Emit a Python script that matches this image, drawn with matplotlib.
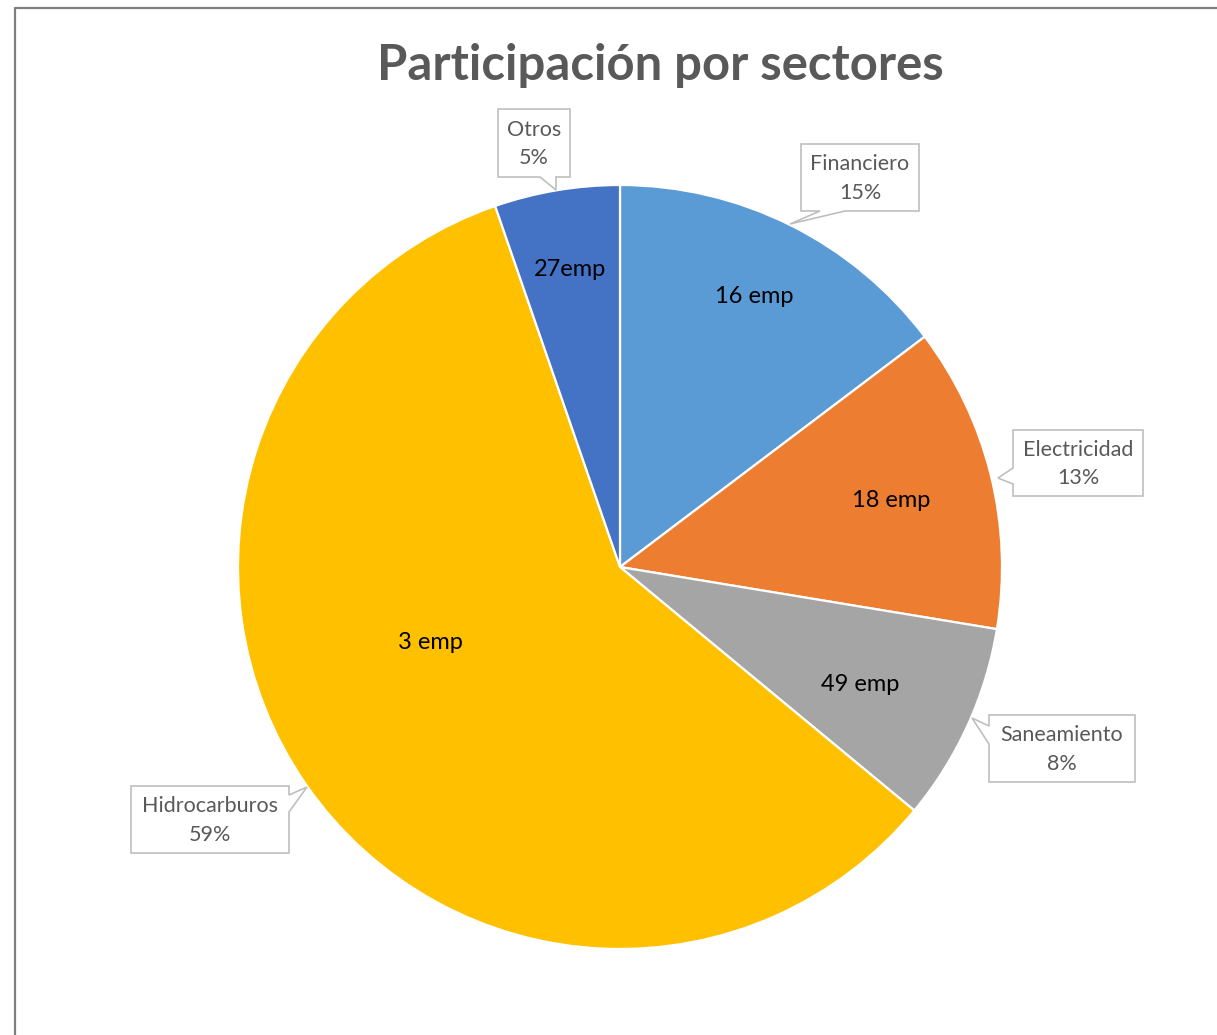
import numpy as np
import matplotlib.pyplot as plt
from matplotlib.patches import Polygon

# data
sectores = ["Financiero", "Electricidad", "Saneamiento", "Hidrocarburos", "Otros"]
participacion = [14.7, 12.9, 8.4, 58.7, 5.3]
empresas = ["16 emp", "18 emp", "49 emp", "3 emp", "27emp"]
colores = ["#5B9BD5", "#ED7D31", "#A5A5A5", "#FFC000", "#4472C4"]

W, H = 1217, 1035
plt.rcParams['font.family'] = ['Lato', 'DejaVu Sans']

fig = plt.figure(figsize=(W / 100, H / 100), dpi=100)

# pie centred at (620, 567) px with radius 382 px
cx, cy, r = 620, 567, 382
ax = fig.add_axes([(cx - r) / W, (H - cy - r) / H, 2 * r / W, 2 * r / H])
wedges, _ = ax.pie(participacion, colors=colores, startangle=90, counterclock=False,
                   wedgeprops=dict(edgecolor="white", linewidth=1.6))
ax.set_xlim(-1, 1)
ax.set_ylim(-1, 1)
ax.set_aspect("equal")

# inner labels (radius, angle shift from the wedge middle)
label_r = [0.79, 0.73, 0.70, 0.534, 0.79]
label_shift = [0, 0, -1.5, -13, 0]
for w, txt, lr, sh in zip(wedges, empresas, label_r, label_shift):
    ang = np.deg2rad((w.theta1 + w.theta2) / 2 + sh)
    ax.text(lr * np.cos(ang), lr * np.sin(ang), txt, ha="center", va="center",
            fontsize=17, color="black")

# overlay in pixel coordinates for border, title and callouts
ov = fig.add_axes([0, 0, 1, 1], zorder=5)
ov.set_xlim(0, W)
ov.set_ylim(H, 0)
ov.axis("off")
ov.patch.set_alpha(0)

ov.plot([15, 15, W + 5], [H + 5, 8, 8], color="#7F7F7F", lw=1.6, clip_on=False)

ov.text(660, 66, "Participación por sectores", ha="center", va="center",
        fontsize=35.3, fontweight="bold", color="#595959")

# callout boxes: (x0, y0, x1, y1), pointer side, pointer base a, base b, tip
callouts = [
    ((801, 144, 919, 211), "bottom", 820, 845, (790, 224)),
    ((1013, 430, 1143, 496), "left", 468, 484, (998, 478)),
    ((989, 715, 1135, 782), "left", 726, 744, (972, 718)),
    ((131, 786, 289, 853), "right", 795, 812, (307, 787)),
    ((498, 109, 570, 177), "bottom", 540, 556, (556, 190)),
]
for (box, side, a, b, tip), name, pct in zip(callouts, sectores, participacion):
    x0, y0, x1, y1 = box
    if side == "bottom":
        pts = [(x0, y0), (x1, y0), (x1, y1), (b, y1), tip, (a, y1), (x0, y1)]
    elif side == "left":
        pts = [(x0, y0), (x1, y0), (x1, y1), (x0, y1), (x0, b), tip, (x0, a)]
    else:
        pts = [(x0, y0), (x1, y0), (x1, a), tip, (x1, b), (x1, y1), (x0, y1)]
    ov.add_patch(Polygon(pts, closed=True, facecolor="white", edgecolor="#BFBFBF", lw=1.2))
    ov.text((x0 + x1) / 2, (y0 + y1) / 2 + 1, "%s\n%d%%" % (name, round(pct)),
            ha="center", va="center", fontsize=15.5, color="#595959", linespacing=1.55)

fig.savefig("out.png", dpi=100, facecolor="white")
